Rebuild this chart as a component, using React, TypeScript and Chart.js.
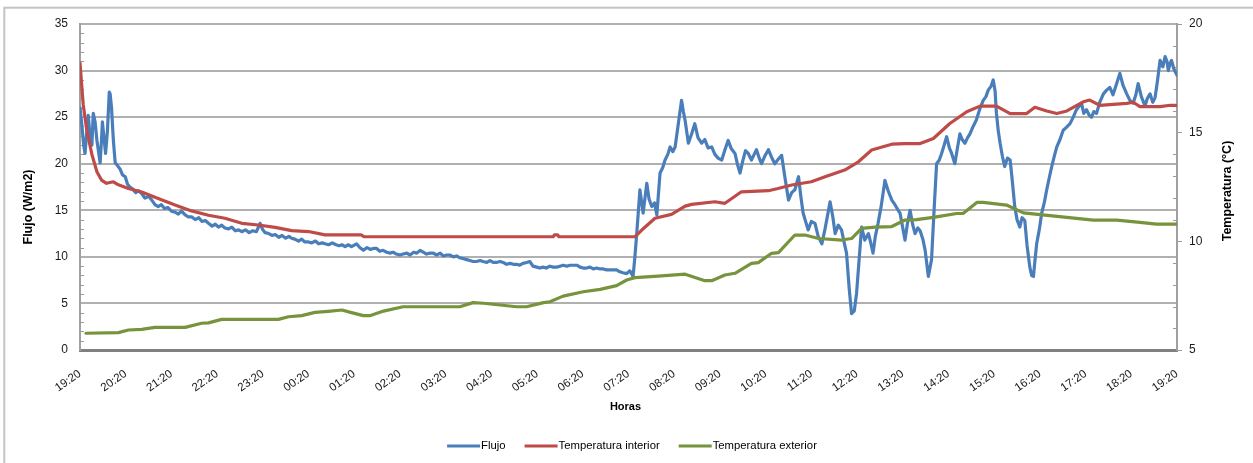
import React, { useEffect, useRef } from "react";
import { Chart, registerables } from "chart.js";

Chart.register(...registerables);

const FONT = "'Liberation Sans', Arial, sans-serif";

// Hour tick labels (one every hour, 24 h span)
const hourLabels = [
  "19:20", "20:20", "21:20", "22:20", "23:20", "00:20", "01:20", "02:20", "03:20",
  "04:20", "05:20", "06:20", "07:20", "08:20", "09:20", "10:20", "11:20", "12:20",
  "13:20", "14:20", "15:20", "16:20", "17:20", "18:20", "19:20",
];

// Heat flux — hours elapsed since 19:20 and W/m2
const flujoHoras = [
  0.00, 0.04, 0.08, 0.11, 0.15, 0.18, 0.22, 0.26, 0.29, 0.33,
  0.37, 0.40, 0.44, 0.47, 0.49, 0.52, 0.56, 0.60, 0.64, 0.66,
  0.69, 0.73, 0.77, 0.82, 0.88, 0.93, 0.99, 1.04, 1.09, 1.15,
  1.22, 1.28, 1.35, 1.42, 1.50, 1.57, 1.64, 1.71, 1.78, 1.85,
  1.92, 2.00, 2.08, 2.15, 2.22, 2.30, 2.37, 2.44, 2.52, 2.60,
  2.67, 2.74, 2.81, 2.89, 2.96, 3.03, 3.10, 3.17, 3.25, 3.32,
  3.40, 3.47, 3.54, 3.62, 3.70, 3.78, 3.86, 3.94, 4.00, 4.05,
  4.13, 4.20, 4.27, 4.35, 4.42, 4.50, 4.57, 4.63, 4.70, 4.78,
  4.85, 4.92, 5.00, 5.07, 5.15, 5.22, 5.30, 5.36, 5.44, 5.52,
  5.60, 5.67, 5.73, 5.80, 5.87, 5.94, 6.05, 6.12, 6.20, 6.28,
  6.35, 6.42, 6.49, 6.56, 6.63, 6.71, 6.78, 6.85, 6.92, 7.00,
  7.07, 7.15, 7.22, 7.30, 7.37, 7.44, 7.51, 7.58, 7.66, 7.73,
  7.80, 7.88, 7.95, 8.02, 8.09, 8.17, 8.24, 8.31, 8.39, 8.46,
  8.53, 8.60, 8.68, 8.75, 8.82, 8.90, 8.97, 9.04, 9.11, 9.19,
  9.26, 9.33, 9.41, 9.48, 9.55, 9.62, 9.69, 9.77, 9.84, 9.91,
  9.99, 10.06, 10.13, 10.20, 10.28, 10.35, 10.43, 10.50, 10.57, 10.65,
  10.72, 10.80, 10.87, 10.94, 11.01, 11.08, 11.16, 11.23, 11.30, 11.38,
  11.45, 11.52, 11.60, 11.67, 11.74, 11.81, 11.88, 11.96, 12.03, 12.10,
  12.14, 12.18, 12.25, 12.32, 12.40, 12.45, 12.51, 12.57, 12.62, 12.69,
  12.75, 12.80, 12.86, 12.91, 12.97, 13.02, 13.09, 13.16, 13.20, 13.24,
  13.31, 13.38, 13.45, 13.52, 13.60, 13.67, 13.74, 13.82, 13.89, 13.96,
  14.04, 14.11, 14.18, 14.25, 14.33, 14.38, 14.44, 14.50, 14.56, 14.62,
  14.69, 14.75, 14.80, 14.86, 14.91, 14.98, 15.06, 15.13, 15.20, 15.28,
  15.35, 15.42, 15.50, 15.57, 15.64, 15.72, 15.77, 15.82, 15.93, 16.00,
  16.08, 16.15, 16.23, 16.30, 16.41, 16.47, 16.52, 16.59, 16.66, 16.72,
  16.77, 16.83, 16.88, 16.94, 16.99, 17.05, 17.10, 17.17, 17.25, 17.30,
  17.35, 17.40, 17.46, 17.53, 17.61, 17.68, 17.76, 17.83, 17.90, 17.94,
  18.05, 18.10, 18.16, 18.22, 18.27, 18.33, 18.38, 18.44, 18.49, 18.56,
  18.63, 18.68, 18.74, 18.80, 18.85, 18.90, 18.96, 19.02, 19.07, 19.14,
  19.20, 19.25, 19.30, 19.36, 19.42, 19.47, 19.54, 19.61, 19.68, 19.76,
  19.82, 19.87, 19.93, 19.98, 20.02, 20.05, 20.09, 20.13, 20.18, 20.23,
  20.29, 20.35, 20.40, 20.45, 20.50, 20.56, 20.61, 20.67, 20.72, 20.78,
  20.82, 20.86, 20.89, 20.93, 20.99, 21.04, 21.10, 21.15, 21.21, 21.26,
  21.32, 21.37, 21.44, 21.51, 21.58, 21.66, 21.73, 21.80, 21.86, 21.91,
  21.96, 22.02, 22.08, 22.13, 22.18, 22.24, 22.31, 22.39, 22.46, 22.53,
  22.60, 22.68, 22.75, 22.82, 22.90, 22.97, 23.04, 23.10, 23.15, 23.22,
  23.30, 23.35, 23.41, 23.47, 23.52, 23.57, 23.63, 23.69, 23.74, 23.78,
  23.81, 23.85, 23.88, 23.93, 24.00,
];
const flujoValores = [
  26.0, 24.2, 22.0, 21.1, 23.5, 25.2, 23.0, 22.0, 25.4, 24.5,
  22.5, 21.5, 20.1, 22.5, 24.5, 23.0, 21.1, 23.5, 27.7, 27.5,
  26.0, 22.5, 20.1, 19.8, 19.4, 18.8, 18.6, 17.8, 17.5, 17.3,
  16.9, 17.1, 16.8, 16.3, 16.5, 16.1, 15.6, 15.4, 15.6, 15.2,
  15.3, 14.9, 14.8, 14.6, 14.9, 14.5, 14.3, 14.3, 14.0, 14.2,
  13.8, 13.9, 13.6, 13.3, 13.5, 13.2, 13.4, 13.1, 13.0, 13.2,
  12.8, 12.9, 12.7, 12.9, 12.6, 12.8, 12.7, 13.6, 12.9, 12.6,
  12.5, 12.3, 12.4, 12.1, 12.3, 12.0, 12.2, 12.0, 11.9, 11.7,
  11.9, 11.6, 11.6, 11.5, 11.7, 11.4, 11.5, 11.4, 11.3, 11.5,
  11.3, 11.2, 11.3, 11.1, 11.3, 11.1, 11.4, 11.0, 10.7, 11.0,
  10.8, 10.9, 10.9, 10.6, 10.7, 10.5, 10.4, 10.5, 10.3, 10.2,
  10.3, 10.4, 10.2, 10.5, 10.4, 10.7, 10.5, 10.3, 10.4, 10.4,
  10.2, 10.4, 10.1, 10.2, 10.2, 10.0, 10.1, 9.9, 9.8, 9.7,
  9.6, 9.5, 9.5, 9.6, 9.5, 9.4, 9.6, 9.4, 9.4, 9.5,
  9.4, 9.2, 9.3, 9.2, 9.2, 9.1, 9.3, 9.4, 9.5, 9.0,
  8.9, 8.8, 8.9, 8.8, 9.0, 8.9, 8.9, 9.0, 9.1, 9.0,
  9.1, 9.1, 9.1, 8.9, 8.8, 8.8, 8.9, 8.7, 8.8, 8.7,
  8.7, 8.6, 8.6, 8.6, 8.6, 8.4, 8.3, 8.2, 8.5, 7.9,
  10.0, 12.5, 17.2, 14.7, 17.9, 16.2, 15.4, 15.8, 14.5, 19.0,
  19.6, 20.4, 21.0, 21.8, 21.3, 21.8, 24.3, 26.8, 25.6, 24.6,
  22.2, 23.2, 24.3, 22.8, 22.2, 22.6, 21.7, 21.8, 21.0, 20.6,
  20.4, 21.5, 22.5, 21.6, 21.1, 20.0, 19.0, 20.3, 21.4, 21.1,
  20.4, 21.0, 21.5, 20.6, 20.0, 20.8, 21.5, 20.7, 20.0, 20.5,
  20.9, 18.6, 16.1, 16.9, 17.2, 18.6, 16.5, 14.7, 12.9, 13.8,
  13.6, 12.2, 11.4, 13.0, 15.9, 14.3, 12.5, 13.4, 12.9, 11.5,
  10.4, 6.5, 3.9, 4.2, 6.1, 10.0, 13.2, 11.8, 12.5, 11.5,
  10.4, 12.2, 13.6, 15.5, 18.2, 17.1, 16.1, 15.6, 15.0, 14.7,
  11.8, 13.5, 15.0, 13.4, 12.5, 13.1, 12.8, 11.9, 10.7, 7.9,
  9.7, 14.5, 20.0, 20.4, 21.1, 21.9, 22.9, 21.7, 21.1, 20.0,
  21.8, 23.2, 22.6, 22.2, 22.8, 23.2, 24.0, 24.7, 25.8, 26.8,
  27.2, 27.9, 28.3, 29.0, 27.8, 25.4, 23.5, 22.2, 20.8, 19.7,
  20.6, 20.4, 18.0, 15.4, 14.0, 13.2, 14.2, 13.9, 11.2, 8.9,
  8.0, 7.9, 9.5, 11.4, 13.0, 14.7, 15.9, 17.2, 18.6, 19.7,
  20.9, 21.8, 22.6, 23.6, 23.9, 24.3, 25.0, 25.8, 26.2, 26.5,
  25.4, 25.8, 25.2, 25.0, 25.6, 25.4, 26.6, 27.5, 27.9, 28.2,
  27.4, 28.6, 29.7, 28.4, 27.5, 26.8, 26.5, 27.4, 28.6, 27.2,
  26.2, 27.0, 27.5, 26.6, 27.1, 28.8, 31.1, 30.4, 31.5, 31.0,
  30.0, 30.8, 31.1, 30.2, 29.5,
];

// Indoor temperature — hours since 19:20 and °C
const tIntHoras = [
  0.00, 0.07, 0.15, 0.26, 0.37, 0.47, 0.58, 0.73, 0.84, 1.06,
  1.35, 1.71, 2.08, 2.44, 2.81, 3.17, 3.54, 3.90, 4.27, 4.63,
  5.00, 5.36, 6.15, 6.22, 10.35, 10.38, 10.45, 10.48, 12.14, 12.29,
  12.58, 12.94, 13.24, 13.38, 13.89, 14.11, 14.47, 15.06, 15.27, 15.57,
  16.00, 16.30, 16.73, 17.03, 17.32, 17.76, 18.05, 18.38, 18.67, 19.03,
  19.40, 19.69, 20.05, 20.35, 20.71, 20.89, 21.15, 21.37, 21.59, 21.95,
  22.09, 22.31, 22.90, 23.04, 23.19, 23.63, 23.85, 24.00,
];
const tIntValores = [
  18.2, 16.3, 15.1, 14.0, 13.2, 12.82, 12.67, 12.74, 12.6, 12.43,
  12.27, 11.97, 11.67, 11.4, 11.2, 11.06, 10.83, 10.75, 10.64, 10.49,
  10.45, 10.3, 10.3, 10.21, 10.21, 10.3, 10.3, 10.21, 10.21, 10.52,
  11.06, 11.24, 11.62, 11.7, 11.82, 11.75, 12.28, 12.33, 12.43, 12.59,
  12.74, 12.97, 13.28, 13.66, 14.2, 14.47, 14.5, 14.5, 14.73, 15.42,
  15.96, 16.22, 16.22, 15.88, 15.88, 16.17, 16.0, 15.88, 16.0, 16.42,
  16.5, 16.26, 16.35, 16.4, 16.2, 16.2, 16.26, 16.26,
];

// Outdoor temperature — hours since 19:20 and °C
const tExtHoras = [
  0.13, 0.84, 1.06, 1.35, 1.64, 2.30, 2.66, 2.81, 3.10, 4.34,
  4.56, 4.85, 5.14, 5.43, 5.73, 5.94, 6.20, 6.34, 6.64, 7.07,
  8.31, 8.60, 8.83, 9.55, 9.77, 10.14, 10.28, 10.57, 11.01, 11.38,
  11.74, 11.96, 12.14, 12.65, 13.24, 13.67, 13.82, 14.11, 14.33, 14.69,
  14.84, 15.13, 15.28, 15.64, 15.86, 16.16, 16.66, 16.88, 17.10, 17.39,
  17.76, 18.05, 18.30, 18.67, 19.18, 19.32, 19.62, 19.76, 20.27, 20.64,
  21.22, 21.59, 22.17, 22.68, 23.19, 23.55, 24.00,
];
const tExtValores = [
  5.77, 5.8, 5.92, 5.95, 6.04, 6.04, 6.23, 6.25, 6.41, 6.41,
  6.53, 6.58, 6.73, 6.78, 6.84, 6.72, 6.58, 6.58, 6.79, 6.99,
  6.99, 7.18, 7.15, 6.99, 6.99, 7.18, 7.22, 7.48, 7.68, 7.79,
  7.96, 8.22, 8.33, 8.4, 8.49, 8.19, 8.19, 8.45, 8.53, 8.99,
  9.02, 9.45, 9.48, 10.29, 10.29, 10.13, 10.06, 10.13, 10.6, 10.65,
  10.68, 10.98, 11.0, 11.1, 11.28, 11.28, 11.79, 11.79, 11.67, 11.31,
  11.18, 11.1, 10.98, 10.98, 10.87, 10.79, 10.79,
];

const seriesNames = ["Flujo", "Temperatura interior", "Temperatura exterior"];
const seriesColors = ["#4a7ebb", "#be4b48", "#77933c"];

const toPoints = (xs: number[], ys: number[]) => xs.map((x, i) => ({ x, y: ys[i] }));

const decorPlugin = {
  id: "decor",
  beforeDraw(chart: any) {
    const { ctx } = chart;
    ctx.save();
    ctx.fillStyle = "#ffffff";
    ctx.fillRect(0, 0, chart.width, chart.height);
    ctx.strokeStyle = "#c4c4c4";
    ctx.lineWidth = 2;
    ctx.strokeRect(4.3, 7.7, 1262, 480);
    ctx.restore();
  },
  beforeDatasetsDraw(chart: any) {
    const { ctx, chartArea, scales } = chart;
    ctx.save();
    ctx.strokeStyle = "#9a9a9a";
    ctx.lineWidth = 1;
    for (let v = 1; v < 35; v++) {
      if (v % 5 === 0) continue;
      const y = Math.round(scales.y.getPixelForValue(v)) + 0.5;
      ctx.beginPath();
      ctx.moveTo(chartArea.left, y);
      ctx.lineTo(chartArea.left + 4, y);
      ctx.stroke();
    }
    for (let v = 6; v < 20; v++) {
      if (v % 5 === 0) continue;
      const y = Math.round(scales.y1.getPixelForValue(v)) + 0.5;
      ctx.beginPath();
      ctx.moveTo(chartArea.right - 4, y);
      ctx.lineTo(chartArea.right, y);
      ctx.stroke();
    }
    ctx.restore();
  },
  afterDraw(chart: any) {
    const { ctx, chartArea } = chart;
    ctx.save();
    ctx.fillStyle = "#000000";
    ctx.textAlign = "center";
    ctx.textBaseline = "middle";

    // axis titles
    ctx.font = `bold 12.5px ${FONT}`;
    ctx.save();
    ctx.translate(29, 207);
    ctx.rotate(-Math.PI / 2);
    ctx.fillText("Flujo (W/m2)", 0, 0);
    ctx.restore();

    ctx.save();
    ctx.translate(1228, 191);
    ctx.rotate(-Math.PI / 2);
    ctx.fillText("Temperatura (°C)", 0, 0);
    ctx.restore();

    ctx.font = `bold 11px ${FONT}`;
    ctx.fillText("Horas", (chartArea.left + chartArea.right) / 2 - 3, 407);

    // legend
    ctx.font = `11.3px ${FONT}`;
    const lineLen = 33;
    const gapText = 1;
    const gapItem = 19;
    const widths = seriesNames.map((n) => ctx.measureText(n).width);
    const total =
      widths.reduce((a, b) => a + b, 0) + seriesNames.length * (lineLen + gapText) + gapItem * (seriesNames.length - 1);
    let x = 632 - total / 2;
    const ly = 446;
    ctx.textAlign = "left";
    seriesNames.forEach((name, i) => {
      ctx.strokeStyle = seriesColors[i];
      ctx.lineWidth = 3;
      ctx.beginPath();
      ctx.moveTo(x, ly);
      ctx.lineTo(x + lineLen, ly);
      ctx.stroke();
      x += lineLen + gapText;
      ctx.fillStyle = "#000000";
      ctx.fillText(name, x, ly);
      x += widths[i] + gapItem;
    });
    ctx.restore();
  },
};

export default function App() {
  const canvasRef = useRef<HTMLCanvasElement | null>(null);

  useEffect(() => {
    const canvas = canvasRef.current;
    if (!canvas) return;
    const tickFont = { family: FONT, size: 12 };
    const chart = new Chart(canvas, {
      type: "line",
      data: {
        datasets: [
          {
            label: seriesNames[0],
            data: toPoints(flujoHoras, flujoValores),
            borderColor: seriesColors[0],
            borderWidth: 3.2,
            yAxisID: "y",
            order: 3,
          },
          {
            label: seriesNames[1],
            data: toPoints(tIntHoras, tIntValores),
            borderColor: seriesColors[1],
            borderWidth: 3.2,
            yAxisID: "y1",
            order: 1,
          },
          {
            label: seriesNames[2],
            data: toPoints(tExtHoras, tExtValores),
            borderColor: seriesColors[2],
            borderWidth: 3.2,
            yAxisID: "y1",
            order: 2,
          },
        ],
      },
      options: {
        responsive: false,
        animation: false,
        devicePixelRatio: 1,
        layout: { padding: { left: 0, right: 0, top: 24, bottom: 0 } },
        elements: {
          point: { radius: 0 },
          line: { tension: 0, borderJoinStyle: "round", borderCapStyle: "round" },
        },
        plugins: {
          legend: { display: false },
          tooltip: { enabled: false },
        },
        scales: {
          x: {
            type: "linear",
            min: 0,
            max: 24,
            ticks: {
              stepSize: 1,
              autoSkip: false,
              minRotation: 35,
              maxRotation: 35,
              padding: 9,
              color: "#1a1a1a",
              font: { family: FONT, size: 11.5 },
              callback: (v: any) => hourLabels[Math.round(Number(v))] ?? "",
            },
            grid: { display: false },
            border: { display: true, color: "#808080", width: 3 },
            afterFit: (s: any) => {
              s.height = 113;
            },
          },
          y: {
            position: "left",
            min: 0,
            max: 35,
            ticks: { stepSize: 5, padding: 12, color: "#1a1a1a", font: tickFont },
            grid: { color: "#b0b0b0", lineWidth: 2, drawTicks: false },
            border: { display: true, color: "#a0a0a0", width: 2 },
            afterFit: (s: any) => {
              s.width = 80;
            },
          },
          y1: {
            position: "right",
            min: 5,
            max: 20,
            ticks: { stepSize: 5, padding: 7, color: "#1a1a1a", font: tickFont },
            grid: { drawOnChartArea: false, drawTicks: true, tickLength: 5, color: "#9a9a9a", lineWidth: 1 },
            border: { display: true, color: "#a0a0a0", width: 2 },
            afterFit: (s: any) => {
              s.width = 76;
            },
          },
        },
      },
      plugins: [decorPlugin],
    });
    return () => chart.destroy();
  }, []);

  return (
    <div style={{ position: "fixed", left: 0, top: 0, width: 1253, height: 463, background: "#fff" }}>
      <canvas ref={canvasRef} width={1253} height={463} style={{ display: "block" }} />
    </div>
  );
}
